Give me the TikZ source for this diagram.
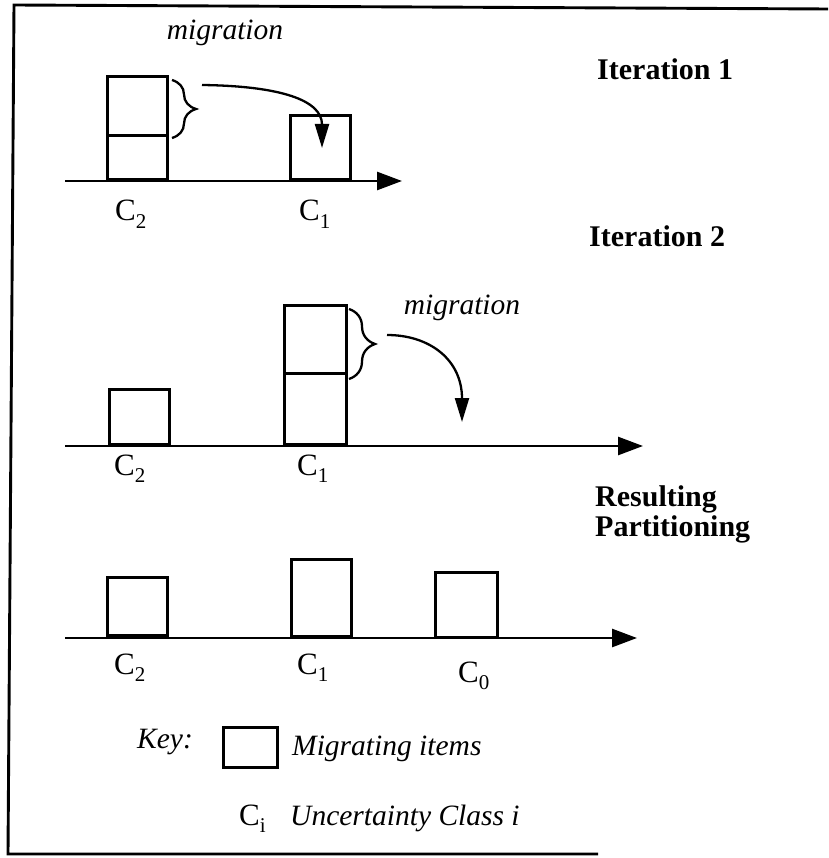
\documentclass[tikz,border=0pt]{standalone}
\usepackage{fontspec}
\setmainfont{Liberation Serif}
\usetikzlibrary{decorations.pathreplacing,arrows.meta}

% class label: C with a lowered index
\newcommand{\clabel}[1]{C\raisebox{-0.24em}{\fontsize{21}{21}\selectfont #1}}

\begin{document}
\begin{tikzpicture}[x=1pt,y=-1pt,
  bin/.style={draw, line width=2.6pt, inner sep=0pt, minimum width=60pt, anchor=south west},
  axis/.style={line width=2.7pt, -{Triangle[length=25pt,width=18pt]}},
  mig/.style={line width=2.3pt, -{Triangle[length=24pt,width=14pt]}},
  brc/.style={line width=2.3pt, decorate, decoration={brace, amplitude=#1}},
  frame/.style={line width=2.9pt},
  head/.style={font=\fontsize{30}{35}\selectfont\bfseries, inner sep=0pt, anchor=base west},
  note/.style={font=\fontsize{29.5}{34}\selectfont\itshape, inner sep=0pt},
  lab/.style={font=\fontsize{31}{36}\selectfont, inner sep=0pt, anchor=base west}]
\useasboundingbox (0,0) rectangle (828,858);

% outer frame (open on the right)
\draw[frame] (828,9) -- (14,5) -- (8,854) -- (598,854);

% ---------------- Iteration 1 ----------------
\node[head] (it1) at (597,80) {Iteration 1};
\coordinate (ax1s) at (65,181);
\coordinate (ax1e) at (402,181);
\draw[axis] (ax1s) -- (ax1e);
\node[bin, minimum height=44pt] (i1c2a) at (106,181) {};
\node[bin, minimum height=59pt] (i1c2b) at (106,137) {};
\node[bin, minimum height=64pt] (i1c1) at (289,181) {};
\draw[brc=24pt] (172,80) -- (172,138);
\node[note, anchor=base] (mig1) at (225,40) {migration};
\coordinate (m1s) at (202,85);
\coordinate (m1e) at (322,148);
\draw[mig] (m1s) .. controls (280,86) and (322,100) .. (m1e);
\node[lab] (l1c2) at (115,221) {\clabel{2}};
\node[lab] (l1c1) at (299,221) {\clabel{1}};

% ---------------- Iteration 2 ----------------
\node[head] (it2) at (589,247) {Iteration 2};
\coordinate (ax2s) at (65,446);
\coordinate (ax2e) at (643,446);
\draw[axis] (ax2s) -- (ax2e);
\node[bin, minimum height=55pt] (i2c2) at (108,446) {};
\node[bin, minimum height=71pt, minimum width=62pt] (i2c1a) at (283,446) {};
\node[bin, minimum height=68pt, minimum width=62pt] (i2c1b) at (283,375) {};
\draw[brc=26pt] (349,309) -- (349,379);
\node[note, anchor=base] (mig2) at (462,314) {migration};
\coordinate (m2s) at (387,335);
\coordinate (m2e) at (462,422);
\draw[mig] (m2s) .. controls (430,335) and (462,360) .. (m2e);
\node[lab] (l2c2) at (114,475) {\clabel{2}};
\node[lab] (l2c1) at (297,475) {\clabel{1}};

% ---------------- Resulting partitioning ----------------
\node[head] (res1) at (595,506) {Resulting};
\node[head] (res2) at (595,536) {Partitioning};
\coordinate (ax3s) at (65,638);
\coordinate (ax3e) at (637,638);
\draw[axis] (ax3s) -- (ax3e);
\node[bin, minimum height=58pt] (rc2) at (106,637) {};
\node[bin, minimum height=77pt] (rc1) at (290,638) {};
\node[bin, minimum height=65pt, minimum width=62pt] (rc0) at (434,639) {};
\node[lab] (l3c2) at (114,674) {\clabel{2}};
\node[lab] (l3c1) at (297,674) {\clabel{1}};
\node[lab] (l3c0) at (458,682) {\clabel{0}};

% ---------------- Key ----------------
\node[note, anchor=base west] (key) at (137,748) {Key:};
\node[draw, line width=2.6pt, inner sep=0pt, minimum width=54pt, minimum height=40pt, anchor=north west] (keybox) at (222,726) {};
\node[note, anchor=base west] (keymig) at (292,755) {Migrating items};
\node[lab] (keyc) at (239,825) {\clabel{i}};
\node[note, anchor=base west] (keyunc) at (290,825) {Uncertainty Class i};
\end{tikzpicture}
\end{document}
